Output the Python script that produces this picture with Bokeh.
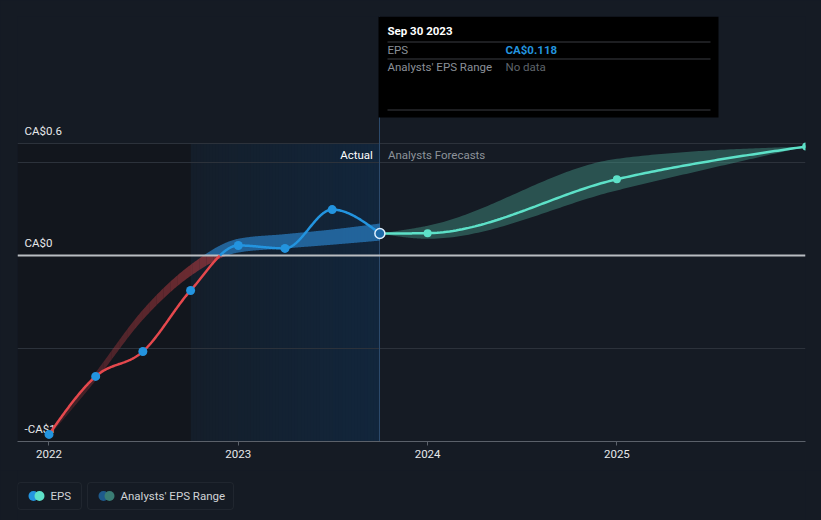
import numpy as np
import pandas as pd
from bokeh.plotting import figure
from bokeh.layouts import column
from bokeh.models import Range1d, FixedTicker, Label, BoxAnnotation
from bokeh.embed import file_html
from bokeh.resources import INLINE
from bokeh.core.properties import value

# ---------------- data ----------------
actual_dates = ["2021-12-31", "2022-03-31", "2022-06-30", "2022-09-30",
                "2022-12-31", "2023-03-31", "2023-06-30", "2023-09-30"]
actual_eps = [-0.962, -0.65, -0.516, -0.188, 0.054, 0.038, 0.247, 0.118]
past_range_lo = [-0.972, -0.672, -0.345, -0.11, 0.016, 0.038, 0.058, 0.08]
past_range_hi = [-0.952, -0.628, -0.292, -0.05, 0.09, 0.115, 0.14, 0.172]

forecast_dates = ["2023-09-30", "2023-12-31", "2024-12-31", "2025-12-31"]
forecast_eps = [0.118, 0.12, 0.41, 0.586]
forecast_lo = [0.118, 0.09, 0.35, 0.586]
forecast_hi = [0.118, 0.16, 0.52, 0.586]

x_tick_values = [2022, 2023, 2024, 2025]
x_tick_labels = ["2022", "2023", "2024", "2025"]
y_grid_values = [-1.0, -0.5, 0.0, 0.5, 0.6]
y_label_values = [0.6, 0.0, -1.0]
y_label_texts = ["CA$0.6", "CA$0", "-CA$1"]

legend_labels = ["EPS", "Analysts' EPS Range"]
legend_colors = [("#2394df", "#5de1c8"), ("#1e5a8c", "#3a7d74")]

FONT = "Roboto"
BG = "#151b24"
STYLE = {"background-color": BG}


def frac_year(s):
    d = pd.Timestamp(s)
    n = 366 if d.is_leap_year else 365
    return d.year + d.dayofyear / n


def monotone(xs, ys, n=60):
    xs = np.asarray(xs, float)
    ys = np.asarray(ys, float)
    k = len(xs)
    h = np.diff(xs)
    s = np.diff(ys) / h
    t = np.zeros(k)
    for i in range(1, k - 1):
        h0, h1, s0, s1 = h[i - 1], h[i], s[i - 1], s[i]
        p_ = (s0 * h1 + s1 * h0) / (h0 + h1)
        t[i] = (np.sign(s0) + np.sign(s1)) * min(abs(s0), abs(s1), 0.5 * abs(p_))
    if k > 2:
        t[0] = (3 * s[0] - t[1]) / 2
        t[-1] = (3 * s[-1] - t[-2]) / 2
    else:
        t[:] = s[0]
    ox, oy = [], []
    for i in range(k - 1):
        u = np.linspace(0, 1, n, endpoint=False)
        h00 = 2 * u**3 - 3 * u**2 + 1
        h10 = u**3 - 2 * u**2 + u
        h01 = -2 * u**3 + 3 * u**2
        h11 = u**3 - u**2
        ox.append(xs[i] + u * h[i])
        oy.append(h00 * ys[i] + h10 * h[i] * t[i] + h01 * ys[i + 1] + h11 * h[i] * t[i + 1])
    ox.append([xs[-1]])
    oy.append([ys[-1]])
    return np.concatenate(ox), np.concatenate(oy)


def split_at_zero(cx, cy):
    nx, ny = [cx[0]], [cy[0]]
    for i in range(1, len(cx)):
        if (cy[i - 1] < 0) != (cy[i] < 0):
            f = cy[i - 1] / (cy[i - 1] - cy[i])
            nx.append(cx[i - 1] + f * (cx[i] - cx[i - 1]))
            ny.append(0.0)
        nx.append(cx[i])
        ny.append(cy[i])
    nx, ny = np.array(nx), np.array(ny)
    neg = np.where(ny <= 0, ny, np.nan)
    pos = np.where(ny >= 0, ny, np.nan)
    return nx, neg, pos


ax = [frac_year(d) for d in actual_dates]
fx = [frac_year(d) for d in forecast_dates]
x_last = ax[-1]
x_hl_start = ax[3]

p = figure(width=821, height=470, output_backend="svg", toolbar_location=None, tools="",
           x_range=Range1d(2021.8336, 2025.9963), y_range=Range1d(-1.0, 1.285),
           min_border_left=17, min_border_right=16, min_border_top=16, min_border_bottom=29,
           background_fill_color=BG, border_fill_color=BG, outline_line_color=None,
           styles=STYLE)

# background regions
p.add_layout(BoxAnnotation(right=x_hl_start, top=y_grid_values[-1], fill_color="#12161d",
                           fill_alpha=1, line_color=None, level="image"))
strips = 60
edges = np.linspace(x_hl_start, x_last, strips + 1)
c0 = np.array([20, 30, 42])
c1 = np.array([18, 38, 60])
cols = ["#%02x%02x%02x" % tuple(np.round(c0 + (c1 - c0) * f).astype(int))
        for f in np.linspace(0, 1, strips)]
p.quad(left=edges[:-1], right=[x_last] * strips, top=y_grid_values[-1], bottom=y_grid_values[0],
       fill_color=cols, line_color=None, level="image")

# grid
p.ygrid.ticker = FixedTicker(ticks=y_grid_values)
p.ygrid.grid_line_color = "#2c323b"
p.xgrid.visible = False
p.yaxis.visible = False

# x axis
p.xaxis.ticker = FixedTicker(ticks=x_tick_values)
p.xaxis.major_label_overrides = {v: t for v, t in zip(x_tick_values, x_tick_labels)}
p.xaxis.axis_line_color = "#5b616a"
p.xaxis.major_tick_line_color = "#5b616a"
p.xaxis.major_tick_in = 0
p.xaxis.major_tick_out = 4
p.xaxis.minor_tick_line_color = None
p.xaxis.major_label_text_color = "#e6e8ea"
p.xaxis.major_label_text_font = FONT
p.xaxis.major_label_text_font_size = "11.5px"
p.xaxis.major_label_standoff = 4

# y labels
for v, t in zip(y_label_values, y_label_texts):
    p.add_layout(Label(x=24, y=v, x_units="canvas", y_units="data", text=t, y_offset=6,
                       text_baseline="bottom", text_color="#e6e8ea", text_font=FONT,
                       text_font_size="11.5px", level="underlay"))

# vertical divider
p.vspan(x=[x_last], line_color="#2c4a6b", line_width=1)

# past range band (red where negative, fading toward the start; blue where positive)
bx, blo = monotone(ax, past_range_lo)
_, bhi = monotone(ax, past_range_hi)
nlo, nhi = np.minimum(blo, 0), np.minimum(bhi, 0)
neg_idx = np.where(nlo < 0)[0]
chunks = np.array_split(neg_idx, 24)
for j, ch in enumerate(chunks):
    if len(ch) == 0:
        continue
    sl = slice(ch[0], min(ch[-1] + 2, len(bx)))
    a = 0.25 + 0.4 * (j / (len(chunks) - 1))
    p.varea(x=bx[sl], y1=nlo[sl], y2=nhi[sl], fill_color="#b03a40", fill_alpha=a)
p.varea(x=bx, y1=np.maximum(blo, 0), y2=np.maximum(bhi, 0), fill_color="#2a7fc4", fill_alpha=0.7)

# forecast band
gx, glo = monotone(fx, forecast_lo)
_, ghi = monotone(fx, forecast_hi)
p.varea(x=gx, y1=glo, y2=ghi, fill_color="#47a090", fill_alpha=0.42)

# zero line
p.hspan(y=[0.0], line_color="#b9bdc2", line_width=2)

# actual line
lx, ly = monotone(ax, actual_eps)
sx, neg, pos = split_at_zero(lx, ly)
p.line(sx, neg, line_color="#e5484d", line_width=2.5)
p.line(sx, pos, line_color="#2394df", line_width=2.5)

# forecast line
qx, qy = monotone(fx, forecast_eps)
p.line(qx, qy, line_color="#5de1c8", line_width=2.5)

p.scatter(ax[:-1], actual_eps[:-1], size=9, fill_color="#2394df", line_color=None)
p.scatter(fx[1:], forecast_eps[1:], size=8, fill_color="#5de1c8", line_color=None)
p.scatter([x_last], [actual_eps[-1]], size=10, fill_color="#1d6aa8", line_color="#dff0ff",
          line_width=1.5)

# Actual / Analysts Forecasts
p.add_layout(Label(x=x_last, y=y_grid_values[-1], x_offset=-7, y_offset=-11, text="Actual",
                   text_align="right", text_baseline="middle", text_color="#ffffff",
                   text_font=FONT, text_font_size="11.5px"))
p.add_layout(Label(x=x_last, y=y_grid_values[-1], x_offset=8, y_offset=-11,
                   text="Analysts Forecasts", text_align="left", text_baseline="middle",
                   text_color="#8d939a", text_font=FONT, text_font_size="11.5px"))


# tooltip
def cbox(l, r, t, b, **kw):
    return BoxAnnotation(left=l, right=r, top=t, bottom=b, left_units="canvas",
                         right_units="canvas", top_units="canvas", bottom_units="canvas", **kw)


def clabel(x, y, text, color, bold=False, size="11.5px"):
    return Label(x=x, y=y, x_units="canvas", y_units="canvas", text=text, text_color=color,
                 text_font=FONT, text_font_size=size, text_baseline="middle",
                 text_font_style="bold" if bold else "normal")


p.add_layout(cbox(378, 718, 16, 117, fill_color="#000000", fill_alpha=1, line_color=None))
for yy in (41, 58, 109):
    p.add_layout(cbox(387, 710, yy, yy + 1, fill_color="#3a3d42", fill_alpha=1, line_color=None))
date_txt = pd.Timestamp(actual_dates[-1]).strftime("%b %d %Y")
p.add_layout(clabel(387, 30, date_txt, "#ffffff", bold=True))
p.add_layout(clabel(387, 49, "EPS", "#8b9098"))
p.add_layout(clabel(505, 49, "CA$%.3f" % actual_eps[-1], "#2394df", bold=True))
p.add_layout(clabel(387, 66, "Analysts' EPS Range", "#8b9098"))
p.add_layout(clabel(505, 66, "No data", "#5f646b"))

# ---------------- legend strip ----------------
leg = figure(width=821, height=50, output_backend="svg", toolbar_location=None, tools="",
             x_range=Range1d(17, 805), y_range=Range1d(50, 0),
             min_border_left=17, min_border_right=16, min_border_top=0, min_border_bottom=0,
             background_fill_color=BG, border_fill_color=BG, outline_line_color=None,
             styles=STYLE)
leg.axis.visible = False
leg.grid.visible = False
box_l = [17, 87]
box_r = [81, 233]
for i, lab in enumerate(legend_labels):
    leg.add_layout(BoxAnnotation(left=box_l[i], right=box_r[i], top=12, bottom=39,
                                 fill_color=None, line_color="#3b414a", line_width=1,
                                 border_radius=3))
    ca, cb = legend_colors[i]
    leg.scatter([box_l[i] + 16], [25.5], size=10, fill_color=ca, line_color=None)
    leg.scatter([box_l[i] + 22], [25.5], size=10, fill_color=cb, line_color=None)
    leg.text([box_l[i] + 33], [25.5], text=[lab], text_color="#d0d3d6", text_font=value(FONT),
             text_font_size="11.5px", text_baseline="middle")

layout = column(p, leg, spacing=0, styles=STYLE)
open("out.html", "w").write(file_html(layout, INLINE))
